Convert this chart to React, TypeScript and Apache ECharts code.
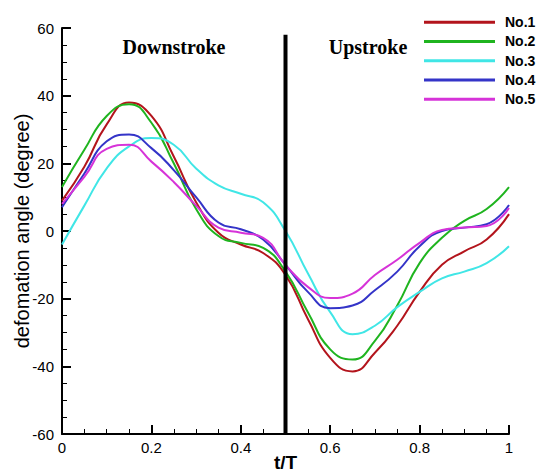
import React, { useEffect, useRef } from "react";
import * as echarts from "echarts";

const tValues = [0, 0.05, 0.1, 0.15, 0.2, 0.25, 0.3, 0.35, 0.4, 0.45, 0.5, 0.55, 0.6, 0.65, 0.7, 0.75, 0.8, 0.85, 0.9, 0.95, 1];

const seriesNames = ["No.1", "No.2", "No.3", "No.4", "No.5"];

const no1 = [9, 19, 31.5, 38, 34, 22, 8.5, -0.5, -4, -6.5, -13, -26, -37.5, -41.5, -36, -28, -18, -10, -6, -2.5, 5];
const no2 = [13, 24, 34, 37.5, 32, 20, 6.5, -1.5, -3.5, -5, -12, -24, -35, -38, -32.5, -22, -9.5, -2, 3, 6.5, 13];
const no3 = [-4, 7.5, 18.5, 25, 27.5, 25.5, 18.5, 13.5, 11, 8.5, 0, -12.5, -24, -30.5, -28, -22.5, -18, -14, -12, -9.5, -4.5];
const no4 = [7, 17, 26.5, 28.5, 24.5, 18, 10, 2.5, 0.5, -2.5, -10, -18, -22.8, -22, -17.5, -12, -4.5, 0, 1, 2, 7.7];
const no5 = [8, 16, 24.3, 25.5, 20.5, 14.5, 7.5, 1, -0.5, -2, -10, -16.5, -19.8, -18.5, -13, -8.5, -3.5, 0.3, 1, 1.5, 6.8];

const allValues = [no1, no2, no3, no4, no5];
const colors = ["#b3141c", "#1fb41f", "#40e6e6", "#3434c8", "#d633d8"];

const dividerX = 0.5;
const dividerSpan = [-60, 58];

const xTicks = [0, 0.2, 0.4, 0.6, 0.8, 1];
const yTicks = [-60, -40, -20, 0, 20, 40, 60];

const phaseLabels = ["Downstroke", "Upstroke"];

export default function App() {
  const ref = useRef<HTMLDivElement>(null);
  useEffect(() => {
    if (!ref.current) return;
    const chart = echarts.init(ref.current, undefined, { renderer: "svg" });
    const lineSeries = seriesNames.map((name, i) => ({
      name,
      type: "line",
      data: tValues.map((t, j) => [t, allValues[i][j]]),
      smooth: 0.5,
      symbol: "none",
      lineStyle: { color: colors[i], width: 2 },
      itemStyle: { color: colors[i] },
      z: 3,
    }));
    const option = {
      animation: false,
      backgroundColor: "#ffffff",
      grid: { left: 62, right: 30, top: 28, bottom: 39, containLabel: false, outerBoundsMode: "none" },
      legend: {
        orient: "vertical",
        left: 419,
        top: 9,
        icon: "rect",
        itemWidth: 71,
        itemHeight: 3,
        itemGap: 3,
        data: seriesNames,
        textStyle: {
          fontFamily: "Arial, Liberation Sans, sans-serif",
          fontWeight: "bold",
          fontSize: 14,
          lineHeight: 16.3,
          color: "#000",
          padding: [0, 0, 0, 5],
        },
      },
      xAxis: {
        type: "value",
        min: xTicks[0],
        max: xTicks[xTicks.length - 1],
        interval: 0.2,
        name: "t/T",
        nameLocation: "middle",
        nameGap: 19,
        nameMoveOverlap: false,
        nameTextStyle: {
          fontFamily: "Arial, Liberation Sans, sans-serif",
          fontSize: 19,
          fontWeight: "bold",
          color: "#000",
        },
        axisLine: { show: true, onZero: false, lineStyle: { color: "#000", width: 2 } },
        axisTick: { show: true, inside: true, length: 9, lineStyle: { color: "#000", width: 2 } },
        minorTick: { show: true, splitNumber: 4, length: 5, lineStyle: { color: "#000", width: 1 } },
        splitLine: { show: false },
        axisLabel: {
          margin: 6,
          fontFamily: "Arial, Liberation Sans, sans-serif",
          fontSize: 15,
          color: "#000",
          formatter: (v: number) => String(Math.round(v * 10) / 10),
        },
      },
      yAxis: {
        type: "value",
        min: yTicks[0],
        max: yTicks[yTicks.length - 1],
        interval: 20,
        name: "defomation angle (degree)",
        nameLocation: "middle",
        nameGap: 30,
        nameMoveOverlap: false,
        nameTextStyle: {
          fontFamily: "Arial, Liberation Sans, sans-serif",
          fontSize: 20,
          color: "#000",
        },
        axisLine: { show: true, onZero: false, lineStyle: { color: "#000", width: 2 } },
        axisTick: { show: true, inside: true, length: 9, lineStyle: { color: "#000", width: 2 } },
        minorTick: { show: true, splitNumber: 4, length: 5, lineStyle: { color: "#000", width: 1 } },
        splitLine: { show: false },
        axisLabel: {
          margin: 8,
          fontFamily: "Arial, Liberation Sans, sans-serif",
          fontSize: 15,
          color: "#000",
        },
      },
      graphic: [
        {
          type: "text",
          x: 174,
          y: 47,
          style: {
            text: phaseLabels[0],
            fontFamily: "Times New Roman, Liberation Serif, serif",
            fontWeight: "bold",
            fontSize: 20,
            fill: "#000",
            textAlign: "center",
            textVerticalAlign: "middle",
          },
        },
        {
          type: "text",
          x: 368,
          y: 47,
          style: {
            text: phaseLabels[1],
            fontFamily: "Times New Roman, Liberation Serif, serif",
            fontWeight: "bold",
            fontSize: 20,
            fill: "#000",
            textAlign: "center",
            textVerticalAlign: "middle",
          },
        },
      ],
      series: [
        ...lineSeries,
        {
          name: "divider",
          type: "line",
          data: dividerSpan.map((y) => [dividerX, y]),
          symbol: "none",
          lineStyle: { color: "#000", width: 4 },
          z: 5,
          silent: true,
        },
      ],
    };
    chart.setOption(option as any);
    return () => chart.dispose();
  }, []);
  return (
    <div
      ref={ref}
      style={{ position: "fixed", left: 0, top: 0, width: 539, height: 473, background: "#fff" }}
    />
  );
}
